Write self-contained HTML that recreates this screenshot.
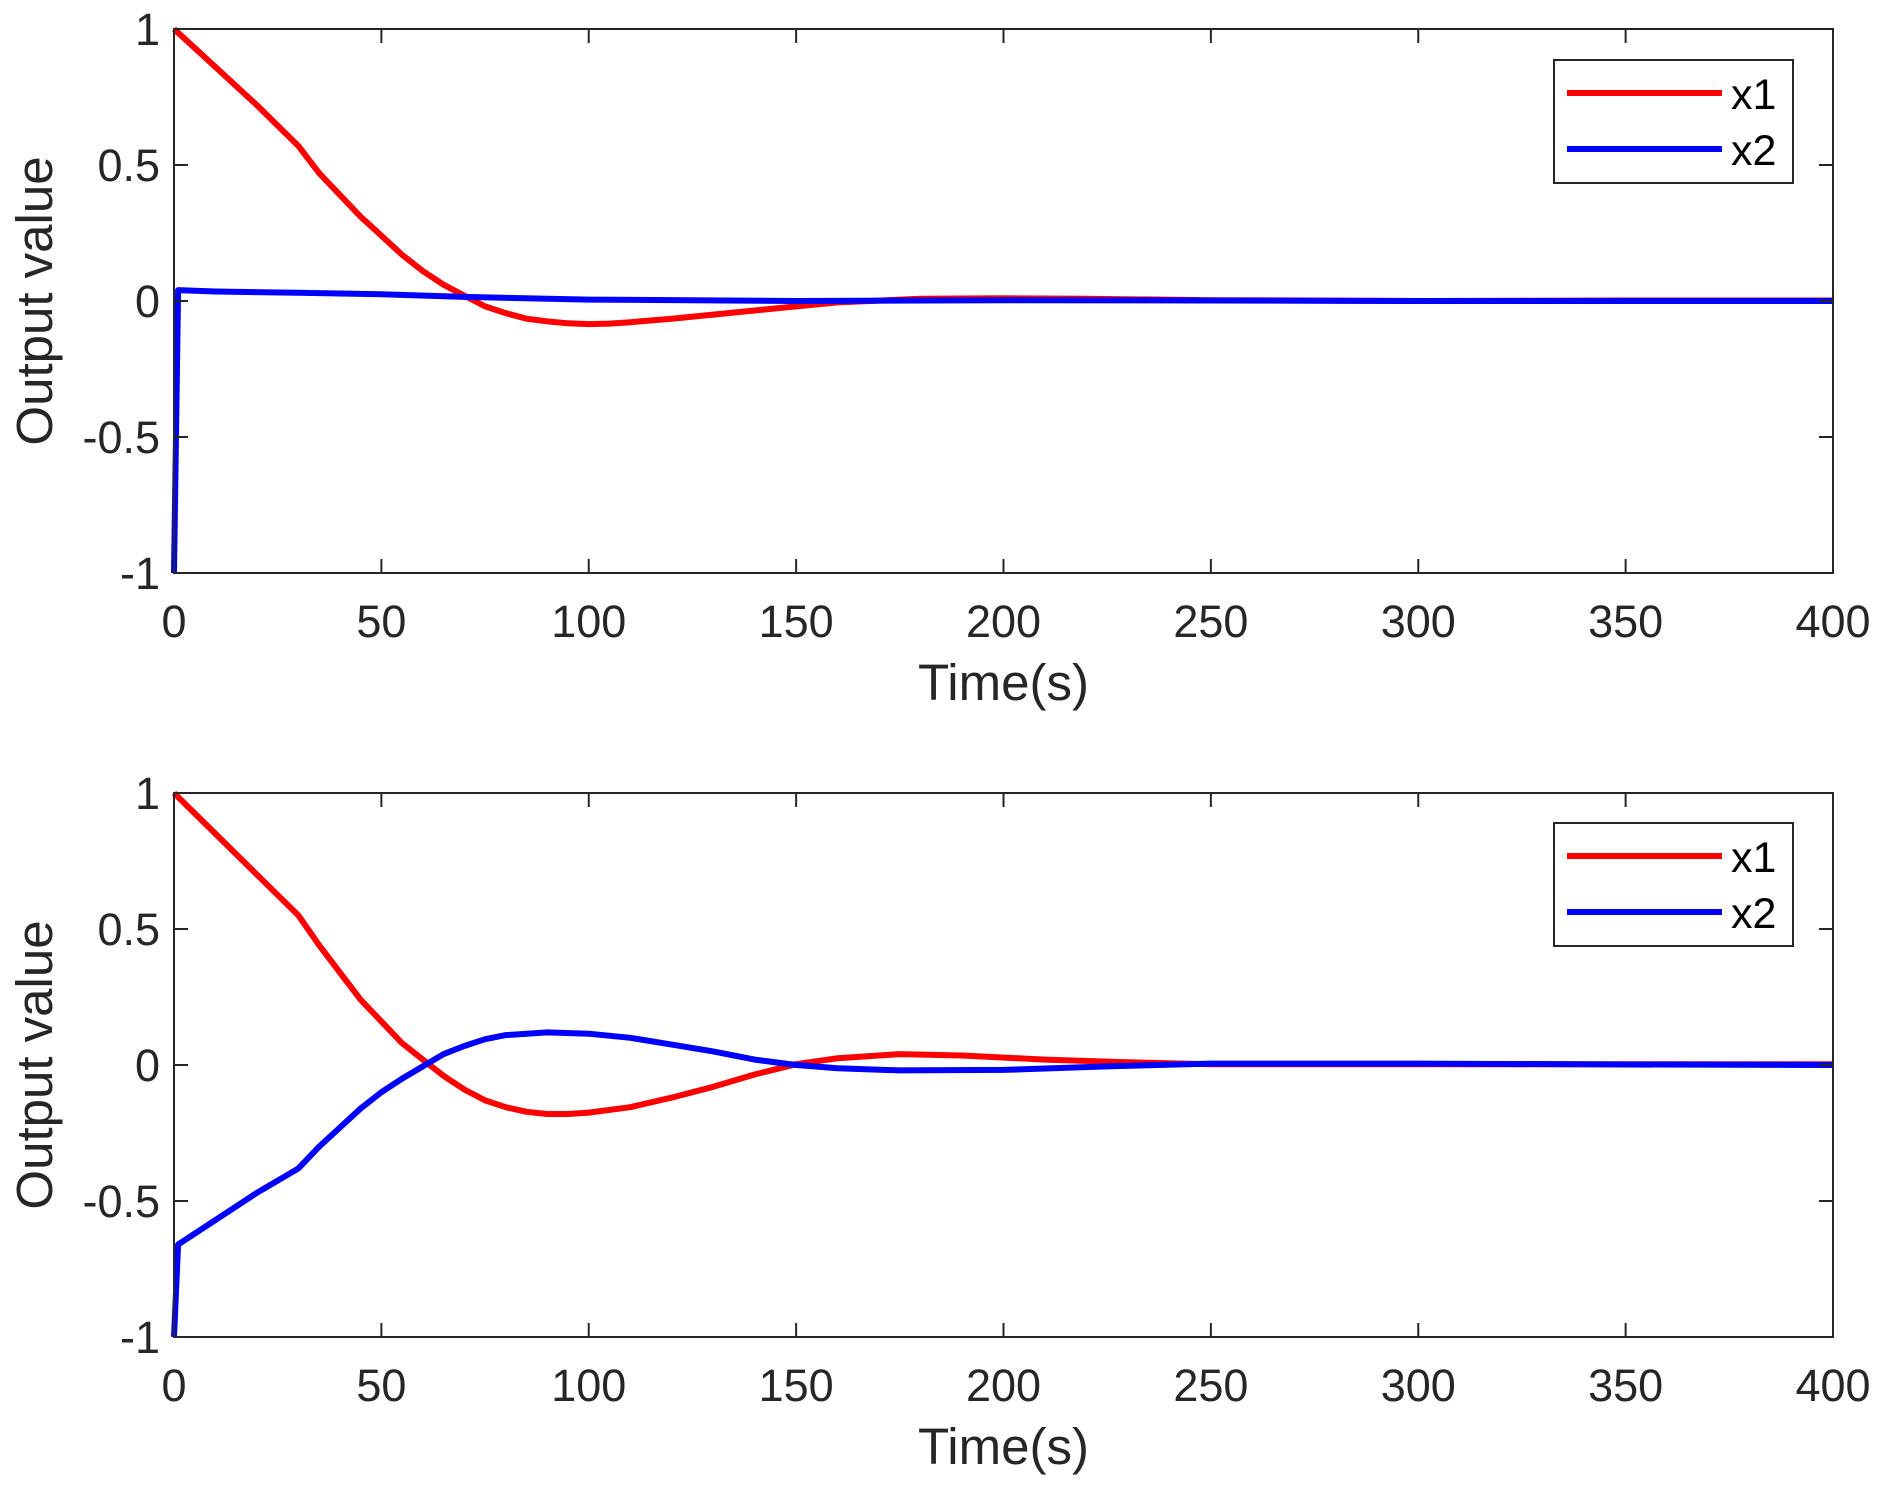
<!DOCTYPE html>
<html><head><meta charset="utf-8"><style>
html,body{margin:0;padding:0;background:#fff;}
svg{display:block;font-family:"Liberation Sans",Arial,sans-serif;}
</style></head><body>
<svg id="chart" width="1885" height="1494" viewBox="0 0 1885 1494"></svg>
<script>
const xTicks=[0,50,100,150,200,250,300,350,400];
const yTicks=[-1,-0.5,0,0.5,1];
const yTickLabels=["-1","-0.5","0","0.5","1"];
const seriesNames=["x1","x2"];
const t1=[0,10,20,30,35,40,45,50,55,60,65,70,75,80,85,90,95,100,105,110,120,130,140,150,160,180,200,220,250,300,350,400];
const top_x1=[1,0.86,0.72,0.57,0.47,0.39,0.31,0.24,0.17,0.11,0.06,0.02,-0.02,-0.045,-0.065,-0.075,-0.082,-0.085,-0.083,-0.078,-0.065,-0.05,-0.035,-0.02,-0.005,0.008,0.01,0.008,0.003,0,0.002,0.002];
const t2=[0,1,10,30,50,70,100,150,200,250,300,350,400];
const top_x2=[-1,0.04,0.035,0.03,0.025,0.015,0.005,0,0.003,0.002,0,0,0];
const tb1=[0,10,20,30,35,40,45,50,55,60,65,70,75,80,85,90,95,100,110,120,130,140,150,160,175,190,210,230,250,300,350,400];
const bot_x1=[1,0.85,0.7,0.55,0.44,0.34,0.24,0.16,0.08,0.02,-0.04,-0.09,-0.13,-0.155,-0.172,-0.18,-0.18,-0.175,-0.155,-0.12,-0.08,-0.035,0.003,0.025,0.04,0.035,0.02,0.01,0.003,0.003,0.003,0.003];
const tb2=[0,1,10,20,30,35,40,45,50,55,60,65,70,75,80,90,100,110,120,130,140,150,160,175,200,225,250,300,350,400];
const bot_x2=[-1,-0.66,-0.57,-0.47,-0.38,-0.3,-0.23,-0.16,-0.1,-0.05,-0.005,0.04,0.07,0.095,0.11,0.12,0.115,0.1,0.075,0.05,0.02,0,-0.012,-0.02,-0.018,-0.005,0.005,0.005,0.002,0];
const panels=[
 {top:29,bottom:573,x1:[t1,top_x1],x2:[t2,top_x2],leg:60},
 {top:793,bottom:1337,x1:[tb1,bot_x1],x2:[tb2,bot_x2],leg:823}
];
const L=174,R=1833;
const NS="http://www.w3.org/2000/svg";
const svg=document.getElementById('chart');
function mk(tag,attrs,parent){const e=document.createElementNS(NS,tag);for(const k in attrs)e.setAttribute(k,attrs[k]);(parent||svg).appendChild(e);return e;}
panels.forEach((p,pi)=>{
 const g=mk('g',{});
 
 
 const sx=v=>L+(v-0)/(400-0)*(R-L);
 const sy=v=>p.bottom-(v+1)/2*(p.bottom-p.top);
 [[p.x1,'#ff0000','x1'],[p.x2,'#0000ff','x2']].forEach(([d,c,n])=>{
  const pts=d[0].map((t,i)=>sx(t).toFixed(1)+','+sy(d[1][i]).toFixed(1)).join(' ');
  const pl=mk('polyline',{points:pts,fill:'none',stroke:c,'stroke-width':6,'stroke-linejoin':'round'},g);
  
  
 });
 const box=mk('rect',{x:L,y:p.top,width:R-L,height:p.bottom-p.top,fill:'none',stroke:'#262626','stroke-width':2},g);
 
 
 xTicks.forEach(v=>{
  const x=sx(v);
  mk('line',{x1:x,x2:x,y1:p.bottom,y2:p.bottom-14,stroke:'#262626','stroke-width':2},g);
  mk('line',{x1:x,x2:x,y1:p.top,y2:p.top+14,stroke:'#262626','stroke-width':2},g);
  const tx=mk('text',{x:x,y:p.bottom+64,'text-anchor':'middle','font-size':45,fill:'#262626'},g);
  tx.textContent=v;
  
  
 });
 yTicks.forEach((v,i)=>{
  const y=sy(v);
  mk('line',{x1:L,x2:L+14,y1:y,y2:y,stroke:'#262626','stroke-width':2},g);
  mk('line',{x1:R,x2:R-14,y1:y,y2:y,stroke:'#262626','stroke-width':2},g);
  const tx=mk('text',{x:L-14,y:y+16,'text-anchor':'end','font-size':45,fill:'#262626'},g);
  tx.textContent=yTickLabels[i];
  
  
 });
 const xt=mk('text',{x:(L+R)/2,y:p.bottom+127,'text-anchor':'middle','font-size':51,fill:'#262626'},g);
 xt.textContent='Time(s)';
 
 
 const cy=(p.top+p.bottom)/2;
 const yt=mk('text',{x:52,y:cy,'text-anchor':'middle','font-size':51,fill:'#262626',transform:'rotate(-90 52 '+cy+')'},g);
 yt.textContent='Output value';
 
 
 const lg=mk('g',{},g);
 
 
 mk('rect',{x:1554,y:p.leg,width:239,height:123,fill:'#fff',stroke:'#262626','stroke-width':2},lg);
 seriesNames.forEach((n,i)=>{
  const y=p.leg+33+i*56;
  const ln=mk('line',{x1:1567,x2:1722,y1:y,y2:y,stroke:i?'#0000ff':'#ff0000','stroke-width':6},lg);
  
  
  const tx=mk('text',{x:1731,y:y+16,'font-size':43,fill:'#000'},lg);
  tx.textContent=n;
  
  
 });
});
</script>
</body></html>
